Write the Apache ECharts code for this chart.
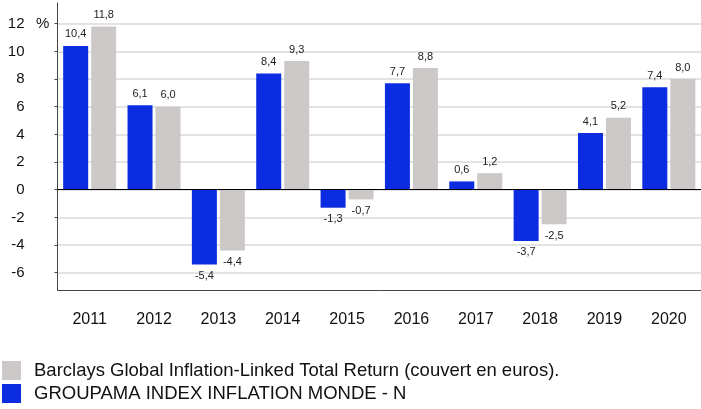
<!DOCTYPE html>
<html>
<head>
<meta charset="utf-8">
<script src="https://cdn.jsdelivr.net/npm/echarts@6/dist/echarts.min.js"></script>
<style>
  html, body { margin: 0; padding: 0; background: #fff; }
  #chart { width: 701px; height: 409px; }
</style>
</head>
<body>
<div id="chart"></div>
<script>
const years = ['2011', '2012', '2013', '2014', '2015', '2016', '2017', '2018', '2019', '2020']
const groupama = [10.4, 6.1, -5.4, 8.4, -1.3, 7.7, 0.6, -3.7, 4.1, 7.4]
const barclays = [11.8, 6.0, -4.4, 9.3, -0.7, 8.8, 1.2, -2.5, 5.2, 8.0]
const yTicks = [-6, -4, -2, 0, 2, 4, 6, 8, 10, 12]

const nameG = 'GROUPAMA INDEX INFLATION MONDE - N'
const nameB = 'Barclays Global Inflation-Linked Total Return (couvert en euros).'

const font = 'Liberation Sans, Arial, sans-serif'

function withLabels (arr) {
  return arr.map(v => ({
    value: v,
    label: { position: v < 0 ? 'bottom' : 'top' }
  }))
}

const barLabel = {
  show: true,
  fontFamily: font,
  fontSize: 11,
  color: '#222',
  distance: 6,
  formatter: p => p.value.toFixed(1).replace('.', ',')
}

const chart = echarts.init(document.getElementById('chart'))
chart.setOption({
  animation: false,
  textStyle: { fontFamily: font },
  grid: { left: 57.5, top: 3, width: 646, height: 287 },
  legend: {
    orient: 'vertical',
    left: 2,
    top: 361,
    padding: 0,
    itemWidth: 19,
    itemHeight: 19,
    itemGap: 4,
    icon: 'rect',
    data: [nameB, nameG],
    textStyle: { fontFamily: font, fontSize: 18.5, color: '#111', padding: [0, 0, 0, 8] }
  },
  graphic: [{
    type: 'text',
    left: 36,
    top: 16,
    style: { text: '%', font: '15px ' + font, fill: '#111' }
  }],
  xAxis: {
    type: 'category',
    data: years,
    axisLine: { onZero: false, lineStyle: { color: '#444', width: 1 } },
    axisTick: { alignWithLabel: true, length: 5, lineStyle: { color: '#444' } },
    axisLabel: { fontSize: 16, color: '#111', margin: 22, fontFamily: font },
    splitLine: { show: false }
  },
  yAxis: {
    type: 'value',
    min: -7.25,
    max: 13.5,
    axisLine: { show: true, lineStyle: { color: '#444', width: 1 } },
    axisTick: { show: true, length: 3, customValues: yTicks, lineStyle: { color: '#444' } },
    axisLabel: { fontSize: 15, color: '#111', margin: 33, fontFamily: font, customValues: yTicks },
    splitLine: { show: true, lineStyle: { color: '#dadada', width: 1.5 } }
  },
  series: [
    {
      name: nameG,
      type: 'bar',
      data: withLabels(groupama),
      barWidth: 25,
      barGap: '12%',
      itemStyle: { color: '#0b2ce0' },
      label: barLabel,
      markLine: {
        silent: true,
        symbol: 'none',
        label: { show: false },
        lineStyle: { color: '#000', width: 1, type: 'solid' },
        data: [{ yAxis: 0 }]
      }
    },
    {
      name: nameB,
      type: 'bar',
      data: withLabels(barclays),
      barWidth: 25,
      itemStyle: { color: '#ccc8c7' },
      label: barLabel
    }
  ]
})
</script>
</body>
</html>
